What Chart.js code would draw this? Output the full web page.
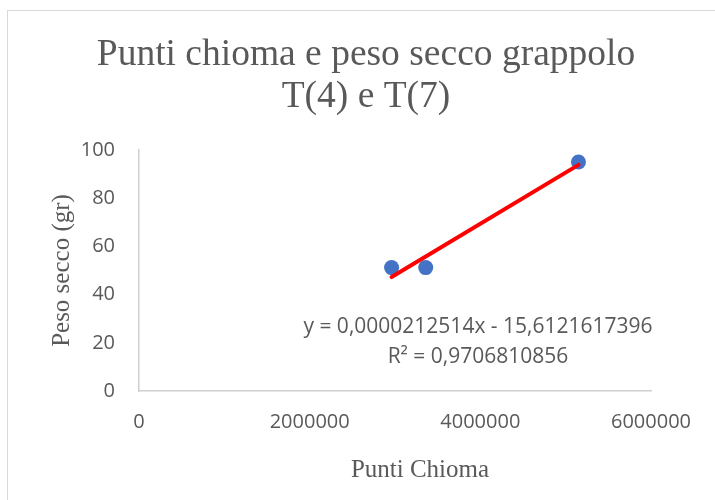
<!DOCTYPE html>
<html>
<head>
<meta charset="utf-8">
<script src="https://cdn.jsdelivr.net/npm/chart.js@4/dist/chart.umd.min.js"></script>
<style>
	html, body { margin: 0; padding: 0; background: #fff; }
	#wrap { position: relative; width: 715px; height: 500px; overflow: hidden; }
	#frame { position: absolute; left: 7px; top: 10px; width: 760px; height: 540px; border: 1px solid #d9d9d9; box-sizing: border-box; }
	#chart { position: absolute; left: 0; top: 0; }
</style>
</head>
<body>
<div id="wrap">
	<div id="frame"></div>
	<canvas id="chart" width="715" height="500"></canvas>
</div>
<script>
const puntiChioma = [2960000, 3360000, 5150000];
const pesoSecco = [51.2, 51.2, 95];
const xTicks = [0, 2000000, 4000000, 6000000];
const yTicks = [0, 20, 40, 60, 80, 100];
// trendline as printed on the chart
const slope = 0.0000212514;
const intercept = -15.6121617396;
const eqLines = ['y = 0,0000212514x - 15,6121617396', 'R² = 0,9706810856'];
const titleLines = ['Punti chioma e peso secco grappolo', 'T(4) e T(7)'];

const grey = '#595959';
const sans = "'Open Sans', sans-serif";
const serif = "'Liberation Serif', 'Times New Roman', serif";

const xMin = Math.min(...puntiChioma);
const xMax = Math.max(...puntiChioma);
const trend = [
	{ x: xMin, y: slope * xMin + intercept },
	{ x: xMax, y: slope * xMax + intercept }
];

// title, x axis title and trendline label sit where Excel put them, not where Chart.js centres them
const textPlugin = {
	id: 'extraText',
	afterDraw: function(chart) {
		const ctx = chart.ctx;
		ctx.save();
		ctx.fillStyle = grey;
		ctx.textAlign = 'center';
		ctx.textBaseline = 'alphabetic';
		ctx.font = '37.5px ' + serif;
		ctx.fillText(titleLines[0], 366, 65);
		ctx.fillText(titleLines[1], 366, 107);
		ctx.font = '21px ' + sans;
		ctx.fillText(eqLines[0], 478, 333);
		ctx.fillText(eqLines[1], 478, 363);
		ctx.font = '25px ' + serif;
		ctx.fillText('Punti Chioma', 420, 477);
		ctx.restore();
	}
};

new Chart(document.getElementById('chart').getContext('2d'), {
	type: 'scatter',
	data: {
		datasets: [{
			label: 'Lineare',
			data: trend,
			showLine: true,
			borderColor: '#ff0000',
			borderWidth: 4,
			pointRadius: 0,
			borderCapStyle: 'round',
			order: 0
		}, {
			label: 'Peso secco',
			data: puntiChioma.map((x, i) => ({ x: x, y: pesoSecco[i] })),
			backgroundColor: '#4472c4',
			borderColor: '#4472c4',
			pointRadius: 7.5,
			pointBorderWidth: 0,
			order: 1
		}]
	},
	options: {
		responsive: false,
		animation: false,
		layout: { padding: { left: 0, right: 64, top: 150, bottom: 0 } },
		plugins: {
			legend: { display: false },
			tooltip: { enabled: false },
			title: { display: false }
		},
		scales: {
			x: {
				type: 'linear',
				min: xTicks[0],
				max: xTicks[xTicks.length - 1],
				afterBuildTicks: function(axis) {
					axis.ticks = xTicks.map(v => ({ value: v }));
				},
				afterFit: function(axis) { axis.height = 109; },
				grid: { display: false, drawTicks: false },
				border: { color: '#cfcfcf', width: 1.5 },
				ticks: {
					color: grey,
					font: { family: sans, size: 20 },
					padding: 19,
					callback: v => String(v)
				}
			},
			y: {
				type: 'linear',
				min: yTicks[0],
				max: yTicks[yTicks.length - 1],
				afterBuildTicks: function(axis) {
					axis.ticks = yTicks.map(v => ({ value: v }));
				},
				afterFit: function(axis) { axis.width = 139; },
				grid: { display: false, drawTicks: false },
				border: { color: '#cfcfcf', width: 1.5 },
				ticks: {
					color: grey,
					font: { family: sans, size: 20 },
					padding: 24
				},
				title: {
					display: true,
					text: 'Peso secco (gr)',
					color: grey,
					font: { family: serif, size: 25, lineHeight: 1.2 },
					padding: { top: 47, bottom: 0 }
				}
			}
		}
	},
	plugins: [textPlugin]
});
</script>
</body>
</html>
